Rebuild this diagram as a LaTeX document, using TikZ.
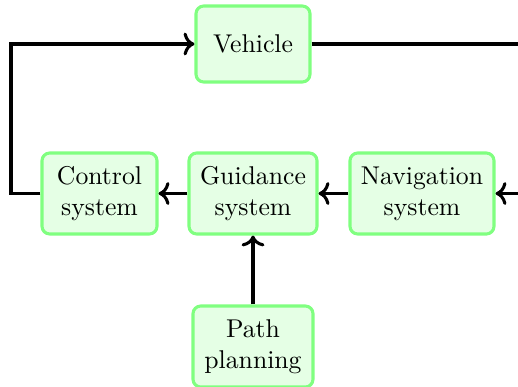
\documentclass[tikz,border=0pt]{standalone}
\usetikzlibrary{arrows.meta}
\begin{document}
\begin{tikzpicture}[x=0.389pt,y=-0.389pt,
  blockbox/.style={draw=green!50, fill=green!10, very thick, rounded corners=3pt,
    align=center, inner sep=0pt, font=\normalsize},
  conn/.style={very thick, black}]
\clip (0,0) rectangle (518,386);
\node[blockbox, minimum width=114*0.389pt, minimum height=76*0.389pt] (veh) at (253,44) {Vehicle};
\node[blockbox, minimum width=115*0.389pt, minimum height=81*0.389pt] (ctl) at (99.5,193.5) {Control\\system};
\node[blockbox, minimum width=128*0.389pt, minimum height=81*0.389pt] (gui) at (253,193.5) {Guidance\\system};
\node[blockbox, minimum width=144*0.389pt, minimum height=81*0.389pt] (nav) at (422,193.5) {Navigation\\system};
\node[blockbox, minimum width=120*0.389pt, minimum height=81*0.389pt] (pp) at (253,346.5) {Path\\planning};
\coordinate (lc) at (11,193.5);
\coordinate (lt) at (11,44);
\coordinate (rt) at (540,44);
\coordinate (rb) at (540,193.5);
\draw[conn,->] (ctl.west) -- (lc) -- (lt) -- (veh.west);
\draw[conn] (veh.east) -- (rt);
\draw[conn,->] (rb) -- (nav.east);
\draw[conn,->] (nav.west) -- (gui.east);
\draw[conn,->] (gui.west) -- (ctl.east);
\draw[conn,->] (pp.north) -- (gui.south);
\end{tikzpicture}
\end{document}
